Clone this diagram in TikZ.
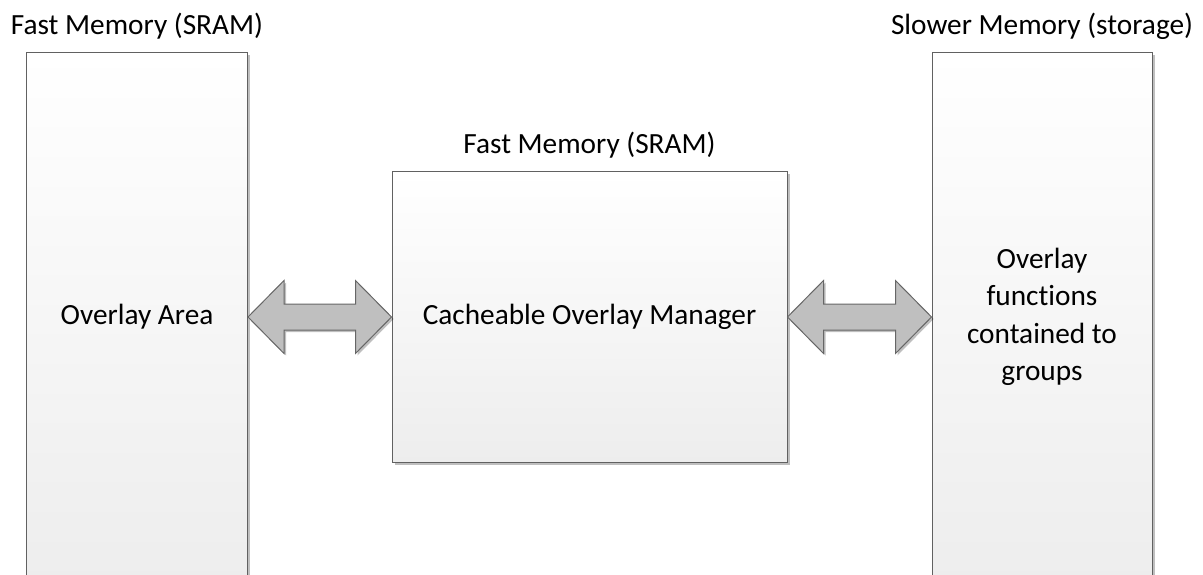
\documentclass[tikz,border=0pt]{standalone}
\usepackage{fontspec}
\setmainfont{Carlito}[Ligatures=NoCommon]
\usepackage{tikz}
\usetikzlibrary{positioning,calc,shadows}

\tikzset{
	membox/.style={draw=black!62, line width=1pt, top color=white, bottom color=black!7,
		drop shadow={shadow xshift=2.5pt, shadow yshift=-2.5pt, opacity=.25, fill=black},
		align=center, inner sep=0pt},
	memtitle/.style={inner sep=0pt},
	xferarrow/.style={draw=black!60, line width=1pt, fill=black!25, line join=miter,
		drop shadow={shadow xshift=2pt, shadow yshift=-2pt, opacity=.25, fill=black}}
}

\begin{document}
\begin{tikzpicture}[x=1pt, y=-1pt, font=\fontsize{29.3}{37.5}\selectfont]
	\useasboundingbox (0,0) rectangle (1203,575);
	\clip (0,0) rectangle (1203,575);

	% memory blocks
	\node[membox, minimum width=221pt, minimum height=528pt] (area) at (137,317) {Overlay Area};
	\node[membox, minimum width=395pt, minimum height=290pt] (manager) at (589.5,317) {Cacheable Overlay Manager};
	\node[membox, minimum width=220pt, minimum height=528pt] (groups) at (1042,317) {Overlay\\functions\\contained to\\groups};

	% titles
	\node[memtitle, above=18pt of area.north, anchor=base] (areatitle) {Fast Memory (SRAM)};
	\node[memtitle, above=18pt of manager.north, anchor=base] (managertitle) {Fast Memory (SRAM)};
	\node[memtitle, above=18pt of groups.north, anchor=base] (groupstitle) {Slower Memory (storage)};

	% transfers
	\foreach \a/\b in {area/manager, manager/groups}
		\draw[xferarrow] (\a.east) -- ($(\a.east)+(36,-36.5)$) -- ($(\a.east)+(36,-13)$)
			-- ($(\b.west)+(-36,-13)$) -- ($(\b.west)+(-36,-36.5)$) -- (\b.west)
			-- ($(\b.west)+(-36,36.5)$) -- ($(\b.west)+(-36,13)$)
			-- ($(\a.east)+(36,13)$) -- ($(\a.east)+(36,36.5)$) -- cycle;
\end{tikzpicture}
\end{document}
